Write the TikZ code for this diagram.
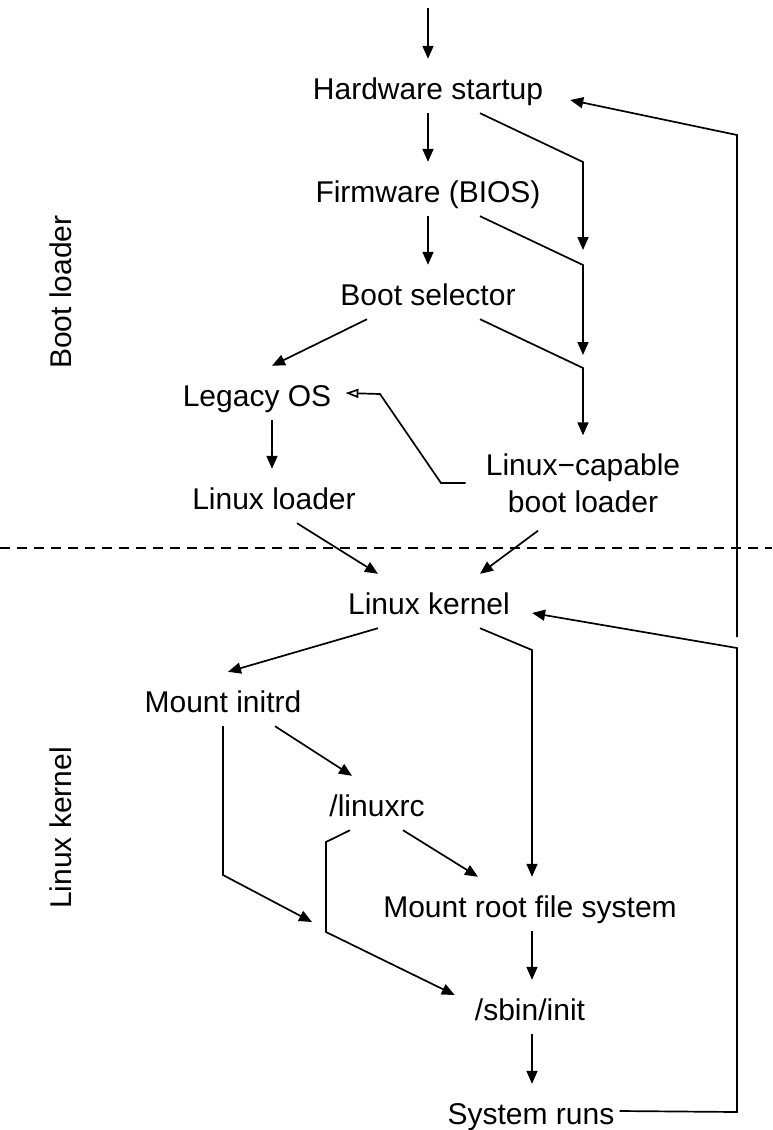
\documentclass[tikz,border=0pt]{standalone}
\usepackage{fontspec}
\setmainfont{Liberation Sans}
\usetikzlibrary{arrows.meta}

\begin{document}
\begin{tikzpicture}[x=1pt, y=-1pt,
		lbl/.style={font=\fontsize{30}{37}\selectfont, inner xsep=0pt, inner ysep=5pt, text height=35pt, text depth=9pt, anchor=base},
		side/.style={font=\fontsize{30}{37}\selectfont, rotate=90, inner sep=0pt},
		wire/.style={line width=1.7pt},
		link/.style={wire, -{Triangle[length=13pt,width=11pt]}}]
			\useasboundingbox (0,0) rectangle (772,1130);
			% boot loader part
			\node[lbl] (hw) at (428,99) {Hardware startup};
			\node[lbl] (fw) at (428,202) {Firmware (BIOS)};
			\node[lbl] (bs) at (428,305) {Boot selector};
			\node[lbl] (lgc) at (257,406) {Legacy OS};
			\node[lbl] (ldr) at (274,509) {Linux loader};
			\node[font=\fontsize{30}{37}\selectfont, align=center, inner xsep=0pt, inner ysep=18pt] (lcb) at (583,483) {Linux−capable\\boot loader};
			% kernel part
			\node[lbl] (krn) at (429,614) {Linux kernel};
			\node[lbl] (ini) at (223,712) {Mount initrd};
			\node[lbl] (rc) at (377,816) {/linuxrc};
			\node[lbl] (mrt) at (530,917) {Mount root file system};
			\node[lbl] (sbi) at (530,1020) {/sbin/init};
			\node[lbl] (run) at (531,1124) {System runs};
			\node[side] (bl) at (61,292) {Boot loader};
			\node[side] (lk) at (61,828) {Linux kernel};
			\coordinate (start) at (428,8);
			\coordinate (skip1) at (583,250);
			\coordinate (skip2) at (583,355);
			\coordinate (skip3) at (312,922);
			\coordinate (up) at (737,637);

			\draw[wire, dash pattern=on 10pt off 7pt] (0,548) -- (772,548);

			\draw[link] (start) -- (hw.north);
			\draw[link] (hw.south) -- (fw.north);
			\draw[link] (fw.south) -- (bs.north);
			\draw[link] ([xshift=52pt]hw.south) -- (583,162) -- (skip1);
			\draw[link] ([xshift=52pt]fw.south) -- (583,265) -- (skip2);
			\draw[link] ([xshift=52pt]bs.south) -- (583,368) -- (lcb.north);
			\draw[link] ([xshift=-61pt]bs.south) -- ([xshift=15pt]lgc.north);
			\draw[link] ([xshift=15pt]lgc.south) -- ([xshift=-2pt]ldr.north);
			\draw[wire, -{Triangle[open,length=13pt,width=9pt]}] ([xshift=-20pt]lcb.west) -- (441,483) -- (380,394) -- ([xshift=14pt]lgc.east);
			\draw[link] ([xshift=23pt]ldr.south) -- ([xshift=-51pt]krn.north);
			\draw[link] ([xshift=-45pt]lcb.south) -- ([xshift=51pt]krn.north);

			\draw[link] ([xshift=-51pt]krn.south) -- ([xshift=5pt]ini.north);
			\draw[link] ([xshift=51pt]krn.south) -- (532,650) -- ([xshift=2pt]mrt.north);
			\draw[link] ([xshift=52pt]ini.south) -- ([xshift=-25pt]rc.north);
			\draw[link] (ini.south) -- (223,875) -- (skip3);
			\draw[link] ([xshift=26pt]rc.south) -- ([xshift=-52pt]mrt.north);
			\draw[link] ([xshift=-27pt]rc.south) -- (326,842) -- (326,932) -- ([xshift=-20pt,yshift=12pt]sbi.west);
			\draw[link] ([xshift=2pt]mrt.south) -- ([xshift=2pt]sbi.north);
			\draw[link] ([xshift=2pt]sbi.south) -- ([xshift=1pt]run.north);
			\draw[link] ([xshift=5pt]run.east) -- (737,1112) -- (737,648) -- ([xshift=22pt,yshift=-12pt]krn.east);
			\draw[link] (up) -- (737,135) -- ([xshift=27pt,yshift=-14pt]hw.east);
		\end{tikzpicture}
\end{document}
